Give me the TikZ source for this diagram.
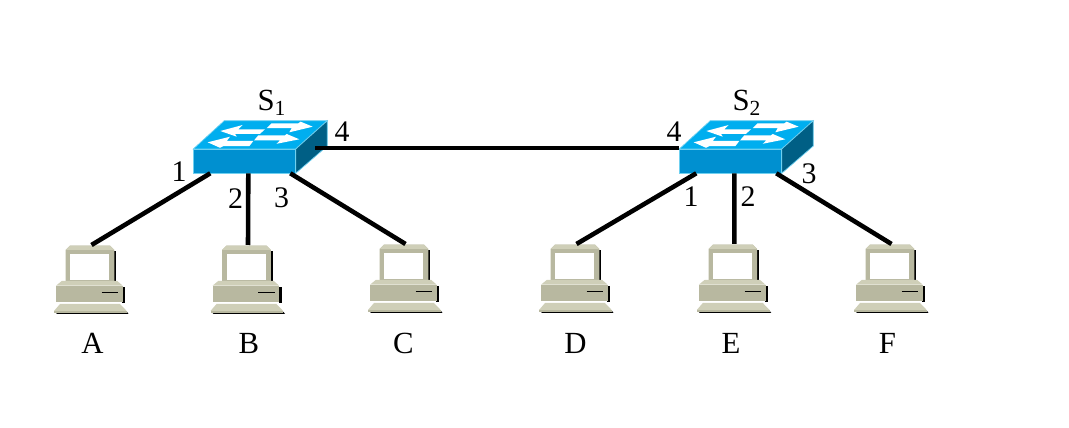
\documentclass[tikz,border=0pt]{standalone}
\usepackage{fontspec}
\setmainfont{Liberation Serif}
\usetikzlibrary{positioning}
\definecolor{swfront}{HTML}{0090D0}
\definecolor{swtop}{HTML}{00AEEF}
\definecolor{swside}{HTML}{005F85}
\definecolor{swedge}{HTML}{6FD0F0}
\definecolor{pcbody}{HTML}{B8B8A0}
\definecolor{pclight}{HTML}{CFCFB8}
\tikzset{
  link/.style={draw=black, line width=2.6pt},
  lbl/.style={font=\fontsize{17.5}{20}\selectfont, inner sep=0pt},
  port/.style={font=\fontsize{17}{20}\selectfont, inner sep=0pt},
  pics/switchicon/.style={code={
    \draw[swedge, fill=swtop, line width=0.4pt] (0,0) -- (31,-28.3) -- (134,-28.3) -- (102.4,0) -- cycle;
    \draw[swedge, fill=swside, line width=0.4pt] (102.4,0) -- (134,-28.3) -- (134,-3) -- (102.4,24.3) -- cycle;
    \draw[swedge, fill=swfront, line width=0.4pt] (0,0) rectangle (102.4,24.3);
    \fill[white] (27,-18) -- (49.4,-24) -- (45,-19.7) -- (71.7,-19.7) -- (66.7,-15.2) -- (41.7,-15.2) -- (43.4,-12.3) -- cycle;
    \fill[white] (119.4,-22.3) -- (107.4,-27.3) -- (105,-25.7) -- (78.4,-25.7) -- (73.4,-20.8) -- (98.4,-20.8) -- (96,-16.7) -- cycle;
    \fill[white] (14.4,-6.7) -- (36.7,-12.3) -- (33.4,-8) -- (60,-8) -- (56,-2.8) -- (30,-2.8) -- (26.7,-1.2) -- cycle;
    \fill[white] (106,-9.7) -- (93.4,-15) -- (91.7,-13.7) -- (65,-13.7) -- (60.7,-8.5) -- (86.7,-8.5) -- (83.4,-5.2) -- cycle;
    \coordinate (-p1) at (17,24.3);
    \coordinate (-p2) at (55,24.3);
    \coordinate (-p3) at (97,24.3);
    \coordinate (-p4) at (122,-1);
    \coordinate (-pw) at (0,-1);
  }},
  pics/pcicon/.style={code={
    % shadow
    \fill[black] (24,-30) -- (26,-30) -- (26,2) -- (24,2) -- cycle;
    \fill[black] (32,6) -- (35,6) -- (35,22) -- (32,22) -- cycle;
    \fill[black] (-35,31) -- (37,31) -- (38.5,33) -- (-33,33) -- cycle;
    % monitor
    \fill[pcbody] (-20,-35.3) -- (20,-35.3) -- (24.3,-31) -- (24.3,1) -- (-24.3,1) -- (-24.3,-31) -- cycle;
    \fill[pclight] (-20,-35.3) -- (20,-35.3) -- (24.3,-31) -- (-24.3,-31) -- cycle;
    \fill[white] (-20,-27) rectangle (19.3,-1);
    % base
    \fill[pcbody] (-34,4.7) rectangle (32.7,20.7);
    \fill[pclight] (-28.3,0) -- (27.3,0) -- (32.7,4.7) -- (-34,4.7) -- cycle;
    \draw[black, line width=0.6pt] (11.7,11.3) -- (28.3,11.3);
    % foot
    \fill[pclight] (-30,23) -- (30,23) -- (36.7,30) -- (-36,30) -- cycle;
    \fill[pcbody] (-36,30) rectangle (36.7,32);
    \coordinate (-top) at (1.5,-36);
  }}
}
\begin{document}
\begin{tikzpicture}[x=0.02cm, y=-0.02cm]

\useasboundingbox (0,0) rectangle (1069,428);

\pic (s1) at (193.3,149) {switchicon};
\pic (s2) at (679.3,149) {switchicon};

\pic (pca) at (90,281) {pcicon};
\pic (pcb) at (246.5,281) {pcicon};
\pic (pcc) at (404,280) {pcicon};
\pic (pcd) at (575,280) {pcicon};
\pic (pce) at (732.8,280) {pcicon};
\pic (pcf) at (890,280) {pcicon};

\node[lbl] (sw1) at (272,103) {S\textsubscript{1}};
\node[lbl] (sw2) at (747,103) {S\textsubscript{2}};

\node[lbl] (la) at (92.5,343.5) {A};
\node[lbl] (lb) at (249,343.5) {B};
\node[lbl] (lc) at (403.5,343.5) {C};
\node[lbl] (ld) at (575.5,343.5) {D};
\node[lbl] (le) at (731,343.5) {E};
\node[lbl] (lf) at (887.5,343.5) {F};

\node[port] (n11) at (179,171.5) {1};
\node[port] (n12) at (235.5,198.5) {2};
\node[port] (n13) at (281.5,197.5) {3};
\node[port] (n14) at (342,131.5) {4};
\node[port] (n24) at (674,131.5) {4};
\node[port] (n21) at (691,196.5) {1};
\node[port] (n22) at (748,196.5) {2};
\node[port] (n23) at (809,173.5) {3};

\draw[link] (s1-p1) -- (pca-top);
\draw[link] (s1-p2) -- (pcb-top);
\draw[link] (s1-p3) -- (pcc-top);
\draw[link] (s2-p1) -- (pcd-top);
\draw[link] (s2-p2) -- (pce-top);
\draw[link] (s2-p3) -- (pcf-top);
\draw[link] (s1-p4) -- (s2-pw);

\end{tikzpicture}
\end{document}
